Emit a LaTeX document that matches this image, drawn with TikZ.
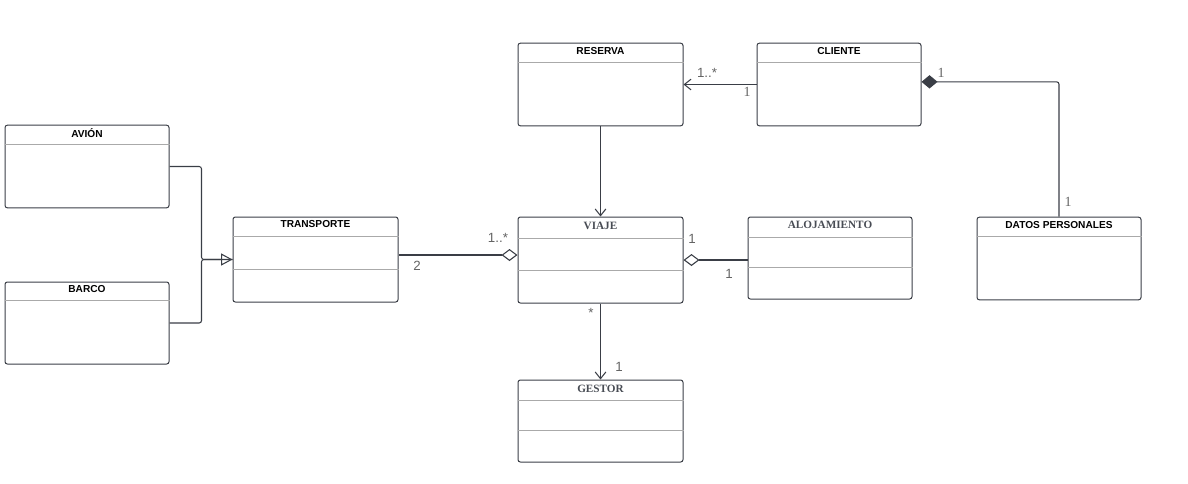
\documentclass[tikz,border=0pt]{standalone}
\usepackage{fontspec}
\setmainfont{Liberation Sans}
\newfontfamily\serifface{Liberation Serif}
\usetikzlibrary{arrows.meta}

\definecolor{lineDark}{RGB}{58,62,70}
\definecolor{sepGray}{RGB}{170,170,170}
\definecolor{multGray}{RGB}{100,100,100}
\definecolor{titleSlate}{RGB}{72,76,84}

\tikzset{every picture/.style={line width=0.75pt}}
\tikzset{
	classbox/.style={draw=lineDark, rounded corners=1.8pt, inner sep=0pt, minimum width=123pt, minimum height=62pt},
	classtitle/.style={font=\fontsize{7.6}{9}\selectfont\bfseries, text=black, inner sep=0pt},
	classtitleserif/.style={font=\fontsize{8.4}{9}\selectfont\serifface\bfseries, text=titleSlate, inner sep=0pt},
	compartment/.style={draw=sepGray, line width=0.7pt},
	assoc/.style={draw=lineDark, line width=0.8pt, rounded corners=1.8pt},
	mult/.style={font=\fontsize{10}{12}\selectfont, text=multGray, inner sep=0pt},
	multserif/.style={font=\fontsize{10.5}{12}\selectfont\serifface, text=multGray, inner sep=0pt}
}

\begin{document}
\begin{tikzpicture}[x=0.75pt,y=0.75pt,yscale=-1,xscale=1]
	\useasboundingbox (0,0) rectangle (1188,483);

	% Class boxes
	\node[classbox] (avion) at (87,166.5) {};
	\node[classbox, minimum height=61.5pt] (barco) at (87,323) {};
	\node[classbox, minimum width=123.75pt, minimum height=63.75pt] (transporte) at (315.5,259.5) {};
	\node[classbox, minimum width=123.75pt] (reserva) at (600.5,84.5) {};
	\node[classbox] (cliente) at (839,84.5) {};
	\node[classbox, minimum width=123.75pt, minimum height=64.5pt] (viaje) at (600.5,260) {};
	\node[classbox, minimum height=61.5pt] (alojamiento) at (830,258) {};
	\node[classbox, minimum width=123.75pt, minimum height=61.5pt] (gestor) at (600.5,421) {};
	\node[classbox] (datos) at (1059,258.5) {};

	% Class names
	\node[classtitle] (avionName) at ([yshift=6pt]avion.north) {AVIÓN};
	\node[classtitle] (barcoName) at ([yshift=6pt]barco.north) {BARCO};
	\node[classtitle] (transporteName) at ([yshift=6pt]transporte.north) {TRANSPORTE};
	\node[classtitle] (reservaName) at ([yshift=6pt]reserva.north) {RESERVA};
	\node[classtitle] (clienteName) at ([yshift=6pt]cliente.north) {CLIENTE};
	\node[classtitle] (datosName) at ([yshift=6.5pt]datos.north) {DATOS PERSONALES};
	\node[classtitleserif] (viajeName) at ([yshift=7pt]viaje.north) {VIAJE};
	\node[classtitleserif] (alojamientoName) at ([yshift=6.5pt]alojamiento.north) {ALOJAMIENTO};
	\node[classtitleserif] (gestorName) at ([yshift=7pt]gestor.north) {GESTOR};

	% Compartments
	\draw[compartment] ([yshift=15pt]avion.north west) -- ([yshift=15pt]avion.north east);
	\draw[compartment] ([yshift=14.25pt]barco.north west) -- ([yshift=14.25pt]barco.north east);
	\draw[compartment] ([yshift=15pt]reserva.north west) -- ([yshift=15pt]reserva.north east);
	\draw[compartment] ([yshift=15pt]cliente.north west) -- ([yshift=15pt]cliente.north east);
	\draw[compartment] ([yshift=15pt]datos.north west) -- ([yshift=15pt]datos.north east);
	\draw[compartment] ([yshift=15pt]transporte.north west) -- ([yshift=15pt]transporte.north east);
	\draw[compartment] ([yshift=39.75pt]transporte.north west) -- ([yshift=39.75pt]transporte.north east);
	\draw[compartment] ([yshift=16.5pt]viaje.north west) -- ([yshift=16.5pt]viaje.north east);
	\draw[compartment] ([yshift=40.5pt]viaje.north west) -- ([yshift=40.5pt]viaje.north east);
	\draw[compartment] ([yshift=15.75pt]alojamiento.north west) -- ([yshift=15.75pt]alojamiento.north east);
	\draw[compartment] ([yshift=38.25pt]alojamiento.north west) -- ([yshift=38.25pt]alojamiento.north east);
	\draw[compartment] ([yshift=15.75pt]gestor.north west) -- ([yshift=15.75pt]gestor.north east);
	\draw[compartment] ([yshift=38.25pt]gestor.north west) -- ([yshift=38.25pt]gestor.north east);

	% Generalization
	\draw[assoc, -{Triangle[open, length=8.5pt, width=9pt]}] (avion.east) -- ++(32,0) |- (transporte.west);
	\draw[assoc] (barco.east) -- ++(32,0) |- (transporte.west);

	% Aggregation transporte - viaje
	\draw[assoc, {Diamond[open, length=12pt, width=9pt]}-] ([yshift=-3.75pt]viaje.west) -- ([yshift=-3.75pt]viaje.west -| transporte.east);
	\node[mult] (multTransporte) at (417,266) {2};
	\node[mult] (multViajeT) at (498,238) {1..*};

	% Reserva - viaje
	\draw[assoc, -{Straight Barb[length=5pt, width=8pt]}] (reserva.south) -- (viaje.north);

	% Cliente - reserva
	\draw[assoc, -{Straight Barb[length=5pt, width=8pt]}] (cliente.west) -- (reserva.east);
	\node[mult] (multReserva) at (707,73) {1..*};
	\node[multserif] (multCliente) at (747,92) {1};

	% Aggregation viaje - alojamiento
	\draw[assoc, {Diamond[open, length=12pt, width=9pt]}-] (viaje.east) -- (viaje.east -| alojamiento.west);
	\node[mult] (multViajeA) at (692,239) {1};
	\node[mult] (multAlojamiento) at (729,274) {1};

	% Viaje - gestor
	\draw[assoc, -{Straight Barb[length=5pt, width=8pt]}] (viaje.south) -- (gestor.north);
	\node[mult] (multViajeG) at (591,313) {*};
	\node[mult] (multGestor) at (619,367) {1};

	% Composition cliente - datos personales
	\draw[assoc, {Diamond[length=12pt, width=10pt, fill=lineDark]}-] ([yshift=-2pt]cliente.east) -| (datos.north);
	\node[multserif] (multClienteD) at (941,73) {1};
	\node[multserif] (multDatos) at (1068,202) {1};

\end{tikzpicture}
\end{document}
